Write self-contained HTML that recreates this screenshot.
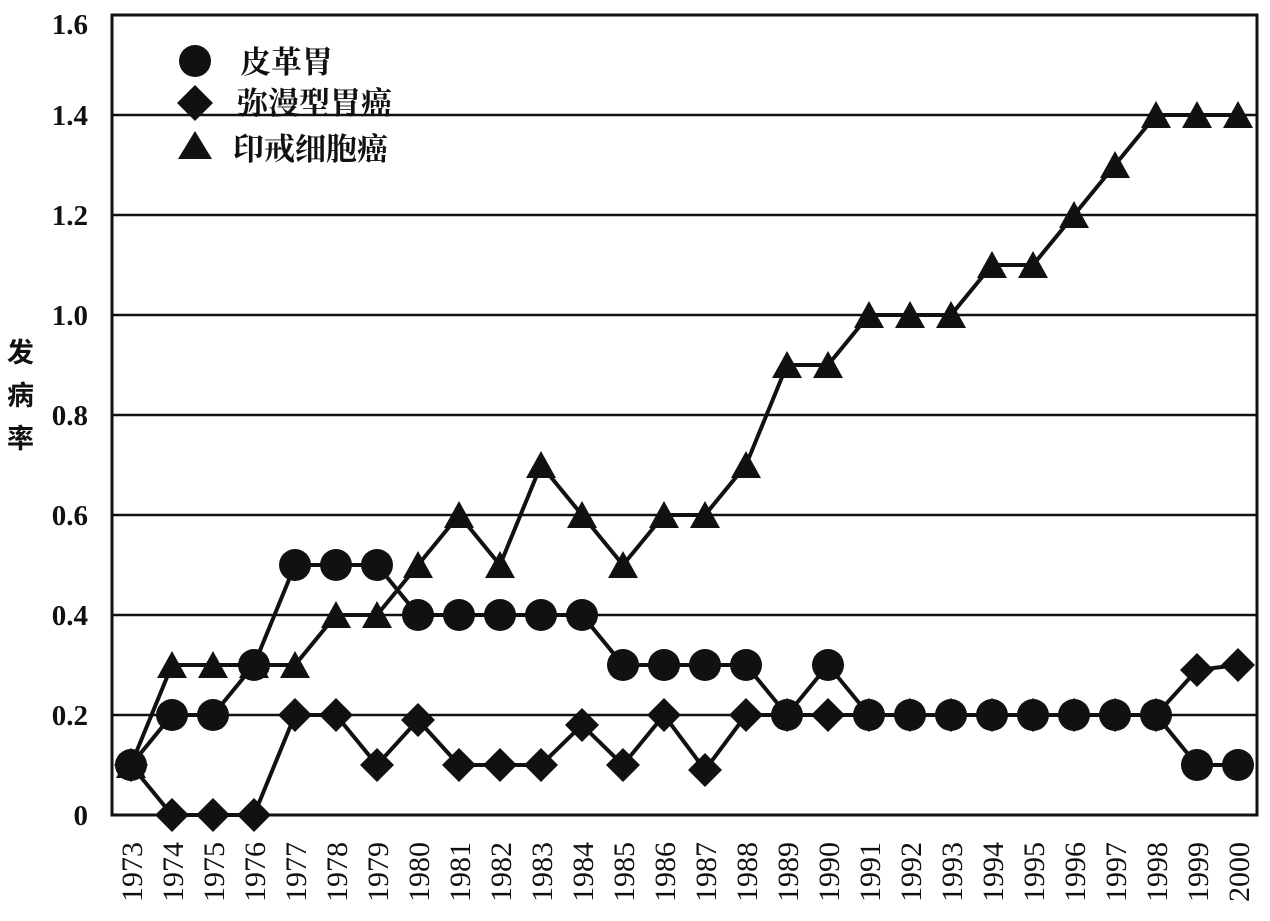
<!DOCTYPE html>
<html><head><meta charset="utf-8"><style>
html,body{margin:0;padding:0;background:#fff;}
svg{display:block;}
</style></head><body>
<svg id="s" width="1270" height="921" viewBox="0 0 1270 921" xmlns="http://www.w3.org/2000/svg" font-family="'Liberation Serif','Noto Serif CJK SC',serif">
<g stroke="#111" stroke-width="2.5">
<line x1="112" y1="715" x2="1257" y2="715"/>
<line x1="112" y1="615" x2="1257" y2="615"/>
<line x1="112" y1="515" x2="1257" y2="515"/>
<line x1="112" y1="415" x2="1257" y2="415"/>
<line x1="112" y1="315" x2="1257" y2="315"/>
<line x1="112" y1="215" x2="1257" y2="215"/>
<line x1="112" y1="115" x2="1257" y2="115"/>
<rect x="112" y="15" width="1145" height="800" fill="none" stroke-width="3"/>
</g>
<g font-size="29" font-weight="bold" text-anchor="end" fill="#111">
<text x="88" y="825">0</text>
<text x="88" y="725">0.2</text>
<text x="88" y="625">0.4</text>
<text x="88" y="525">0.6</text>
<text x="88" y="425">0.8</text>
<text x="88" y="325">1.0</text>
<text x="88" y="225">1.2</text>
<text x="88" y="125">1.4</text>
<text x="88" y="34">1.6</text>
</g>
<g font-size="27" fill="#111" font-family="'Noto Sans CJK SC',sans-serif" font-weight="bold">
<text x="7" y="362">发</text>
<text x="7" y="405">病</text>
<text x="7" y="448">率</text>
</g>
<g id="xt" font-size="30" fill="#111"></g>
<g id="lines" fill="none" stroke="#111" stroke-width="4"></g>
<g id="marks" fill="#111"></g>
<g fill="#111">
<circle cx="195" cy="61" r="16"/>
<polygon points="195,85 213,103 195,121 177,103"/>
<polygon points="195,131 212,159 178,159"/>
</g>
<g font-size="31" fill="#111" font-family="'Noto Serif CJK SC',serif" font-weight="bold">
<text x="240" y="73">皮革胃</text>
<text x="237" y="114">弥漫型胃癌</text>
<text x="233" y="160">印戒细胞癌</text>
</g>
</svg>
<script>
var ns="http://www.w3.org/2000/svg";
function X(i){return 131+i*41.0;}
function Y(v){return 815-v*500;}
var c=[.1,.2,.2,.3,.5,.5,.5,.4,.4,.4,.4,.4,.3,.3,.3,.3,.2,.3,.2,.2,.2,.2,.2,.2,.2,.2,.1,.1];
var d=[.1,0,0,0,.2,.2,.1,.19,.1,.1,.1,.18,.1,.2,.09,.2,.2,.2,.2,.2,.2,.2,.2,.2,.2,.2,.29,.3];
var t=[.1,.3,.3,.3,.3,.4,.4,.5,.6,.5,.7,.6,.5,.6,.6,.7,.9,.9,1,1,1,1.1,1.1,1.2,1.3,1.4,1.4,1.4];
var L=document.getElementById('lines'),M=document.getElementById('marks'),XT=document.getElementById('xt');
[c,d,t].forEach(function(a){var p=document.createElementNS(ns,'polyline');p.setAttribute('points',a.map(function(v,i){return X(i)+','+Y(v)}).join(' '));L.appendChild(p);});
for(var i=0;i<28;i++){
 var x=X(i);
 var e=document.createElementNS(ns,'circle');e.setAttribute('cx',x);e.setAttribute('cy',Y(c[i]));e.setAttribute('r',16);M.appendChild(e);
 var y=Y(d[i]);e=document.createElementNS(ns,'polygon');e.setAttribute('points',x+','+(y-17)+' '+(x+17)+','+y+' '+x+','+(y+17)+' '+(x-17)+','+y);M.appendChild(e);
 y=Y(t[i]);e=document.createElementNS(ns,'polygon');e.setAttribute('points',x+','+(y-14)+' '+(x+15)+','+(y+13)+' '+(x-15)+','+(y+13));M.appendChild(e);
 var tx=document.createElementNS(ns,'text');tx.setAttribute('transform','translate('+(x+11)+',902) rotate(-90)');tx.textContent=1973+i;XT.appendChild(tx);
}
</script>
</body></html>
